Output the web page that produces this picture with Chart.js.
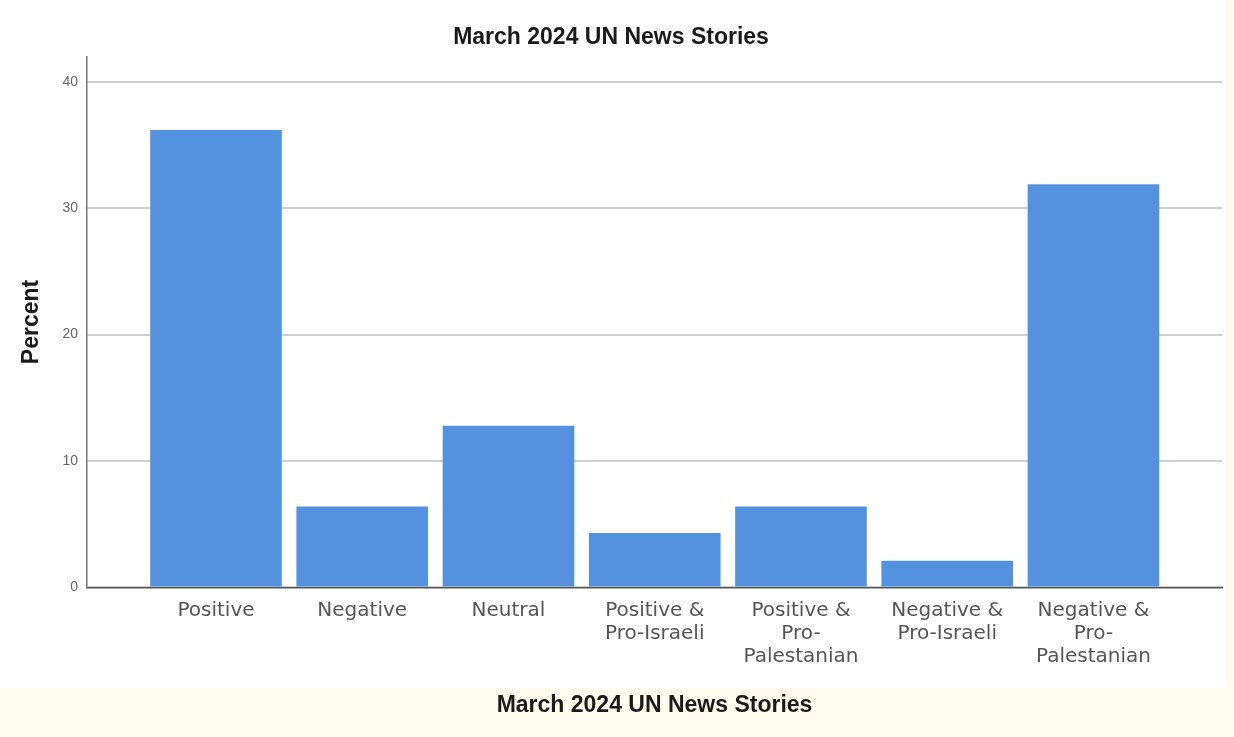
<!DOCTYPE html>
<html>
<head>
<meta charset="utf-8">
<title>March 2024 UN News Stories</title>
<script src="https://cdn.jsdelivr.net/npm/chart.js@4.4.1/dist/chart.umd.min.js"></script>
<style>
  html, body { margin: 0; padding: 0; background: #fffbee; }
  #wrap { width: 1234px; height: 737px; }
</style>
</head>
<body>
<div id="wrap"><canvas id="unNewsChart"></canvas></div>
<script>
// categories, split over lines like the original axis labels
const categories = [
  ['Positive'],
  ['Negative'],
  ['Neutral'],
  ['Positive &', 'Pro-Israeli'],
  ['Positive &', 'Pro-', 'Palestanian'],
  ['Negative &', 'Pro-Israeli'],
  ['Negative &', 'Pro-', 'Palestanian']
]
const percentValues = [36.2, 6.4, 12.8, 4.3, 6.4, 2.1, 31.9]
const yTickValues = [0, 10, 20, 30, 40]

const chartTitle = 'March 2024 UN News Stories'
const barColor = '#5492e0'

// bars sit at positions 0..n-1 on a linear axis so the plot can keep its side margins
const points = percentValues.map(function(v, i){
    return {x: i, y: v}
})

const backgroundPlugin = {
    id: 'pageBackground',
    beforeDraw: function(chart){
        const ctx = chart.ctx
        ctx.save()
        ctx.fillStyle = '#fffbee'
        ctx.fillRect(0, 0, chart.width, chart.height)
        ctx.fillStyle = '#ffffff'
        ctx.fillRect(0, 0, 1226, 688)
        ctx.restore()
    }
}

const ctx = document.getElementById('unNewsChart')

new Chart(ctx, {
    type: 'bar',
    data: {
        datasets: [{
            label: 'Percent',
            data: points,
            backgroundColor: barColor,
            borderWidth: 0,
            categoryPercentage: 0.9,
            barPercentage: 1
        }]
    },
    plugins: [backgroundPlugin],
    options: {
        responsive: true,
        maintainAspectRatio: false,
        animation: false,
        layout: {
            padding: {top: 0, left: 0, right: 12, bottom: 10}
        },
        plugins: {
            legend: {display: false},
            tooltip: {enabled: false},
            title: {
                display: true,
                text: chartTitle,
                color: '#1a1a1a',
                font: {family: 'Liberation Sans', size: 23, weight: 'bold'},
                padding: {top: 24, bottom: 5}
            }
        },
        scales: {
            x: {
                type: 'linear',
                offset: false,
                min: -0.882,
                max: 6.879,
                afterBuildTicks: function(scale){
                    scale.ticks = categories.map(function(c, i){ return {value: i} })
                },
                grid: {display: false, drawTicks: false},
                border: {display: true, color: '#555555', width: 1.5},
                ticks: {
                    autoSkip: false,
                    maxRotation: 0,
                    padding: 12,
                    color: '#555555',
                    font: {family: 'DejaVu Sans', size: 20, lineHeight: 1.15},
                    callback: function(value){
                        return categories[value]
                    }
                },
                title: {
                    display: true,
                    text: chartTitle,
                    color: '#1a1a1a',
                    font: {family: 'Liberation Sans', size: 23, weight: 'bold'},
                    padding: {top: 11, bottom: 8}
                }
            },
            y: {
                min: 0,
                max: 42,
                afterBuildTicks: function(scale){
                    scale.ticks = yTickValues.map(function(v){ return {value: v} })
                },
                afterFit: function(scale){
                    scale.width = 87
                },
                grid: {color: '#cfcfcf', lineWidth: 2, drawTicks: false},
                border: {display: true, color: '#777777', width: 1.5},
                ticks: {
                    padding: 9,
                    color: '#666666',
                    font: {family: 'Liberation Sans', size: 14}
                },
                title: {
                    display: true,
                    text: 'Percent',
                    color: '#1a1a1a',
                    font: {family: 'Liberation Sans', size: 23, weight: 'bold'},
                    padding: {top: 18, bottom: 10}
                }
            }
        }
    }
})
</script>
</body>
</html>
